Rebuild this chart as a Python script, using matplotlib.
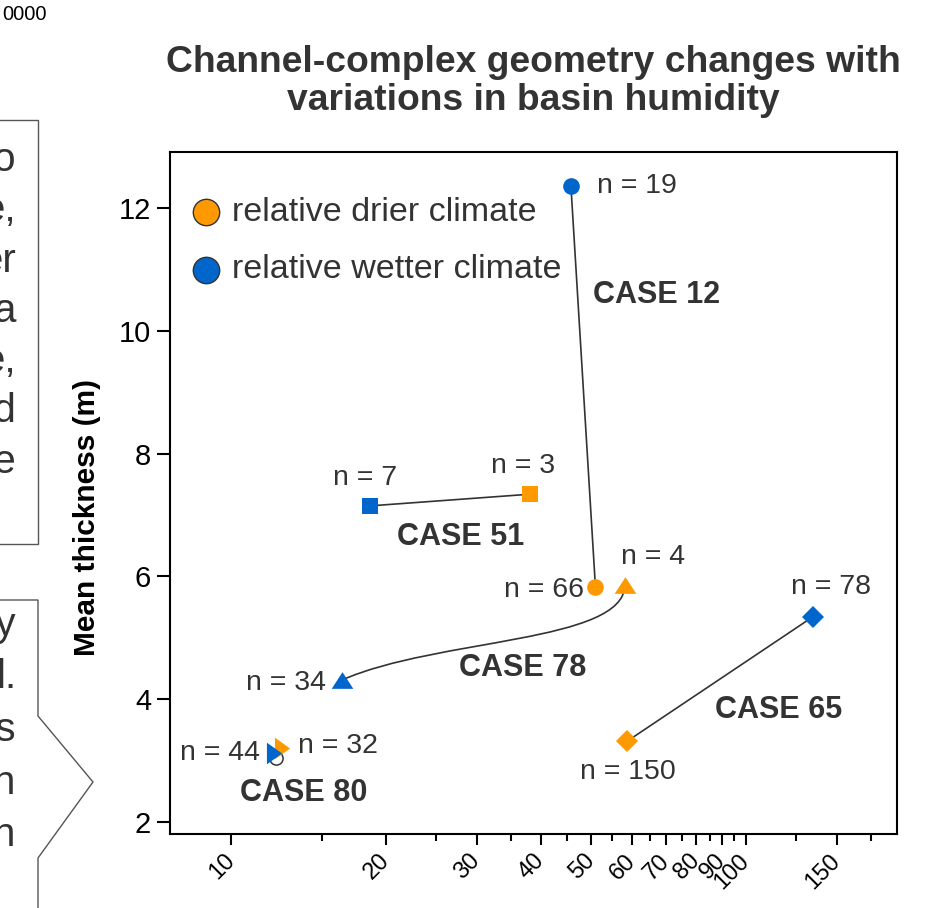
import matplotlib
matplotlib.use("Agg")
import matplotlib.pyplot as plt
from matplotlib.path import Path
from matplotlib.patches import PathPatch, Polygon
from matplotlib.ticker import FixedLocator, NullFormatter
import numpy as np

# ---------------- data ----------------
cases = ["CASE 12", "CASE 51", "CASE 78", "CASE 65", "CASE 80"]
dry_x = [51.0, 38.0, 58.2, 58.7, 12.56]
dry_y = [5.82, 7.34, 5.86, 3.31, 3.20]
wet_x = [45.7, 18.6, 16.4, 135.1, 12.1]
wet_y = [12.36, 7.15, 4.31, 5.345, 3.12]
dry_n = ["n = 66", "n = 3", "n = 4", "n = 150", "n = 32"]
wet_n = ["n = 19", "n = 7", "n = 34", "n = 78", "n = 44"]
open_x = [12.2]
open_y = [3.04]

xmajor = [10, 20, 30, 40, 50, 60, 70, 80, 90, 100, 150]
xminor = [15, 25, 35, 45, 55, 65, 75, 85, 95, 125, 175]
yticks = [2, 4, 6, 8, 10, 12]

ORANGE = "#FF9900"
BLUE = "#0066CC"
DARK = "#333333"

plt.rcParams['font.family'] = ['Liberation Sans', 'DejaVu Sans']

W, H = 929, 908
fig = plt.figure(figsize=(W / 100, H / 100), dpi=100)
ax = fig.add_axes([170 / W, 1 - 834 / H, 727.5 / W, 682 / H])
ax.set_xscale('log')
ax.set_xlim(7.6, 197)
ax.set_ylim(1.8, 12.92)

# markers per case
dry_m = ['o', 's', 'tri', 'D', 'rtri']
tri_up = [(-1, -0.77), (1, -0.77), (0, 0.77)]
tri_right = [(-0.7, -1), (-0.7, 1), (0.7, 0)]


def mk(m):
    if m == 'tri':
        return tri_up, 15.6
    if m == 'rtri':
        return tri_right, 15.6
    if m == 'D':
        return 'D', 11
    if m == 's':
        return 's', 12
    return 'o', 12


# connecting lines (straight) for cases 12, 51, 65
for i in [0, 1, 3]:
    ax.plot([dry_x[i], wet_x[i]], [dry_y[i], wet_y[i]], color=DARK, lw=1.2, zorder=2)

# curved connector for case 78 (bezier in display space)
i = 2
p0 = ax.transData.transform((dry_x[i], dry_y[i]))
p3 = ax.transData.transform((wet_x[i], wet_y[i]))
p1 = p0 + np.array([-1, -58])
p2 = p3 + np.array([95, 42])
pts = ax.transData.inverted().transform(np.array([p0, p1, p2, p3]))
path = Path(pts, [Path.MOVETO, Path.CURVE4, Path.CURVE4, Path.CURVE4])
ax.add_patch(PathPatch(path, facecolor='none', edgecolor=DARK, lw=1.2, zorder=2))

# open circle for case 80
ax.plot(open_x, open_y, 'o', ms=9.5, mfc='white', mec=DARK, mew=1.1, zorder=3)

for i in range(len(cases)):
    m, s = mk(dry_m[i])
    ax.plot([dry_x[i]], [dry_y[i]], marker=m, ms=s, color=ORANGE, mew=0, ls='none', zorder=4)
for i in range(len(cases)):
    m, s = mk(dry_m[i])
    ax.plot([wet_x[i]], [wet_y[i]], marker=m, ms=s, color=BLUE, mew=0, ls='none', zorder=5)

# n labels (offsets in pixels)
lab_kw = dict(textcoords='offset pixels', fontsize=20.5, color=DARK)
dry_off = [((-11, -3), 'right', 'center'), ((-7, 28), 'center', 'center'),
           ((-4, 28), 'left', 'center'), ((1, -31), 'center', 'center'),
           ((16, 2), 'left', 'center')]
wet_off = [((26, 0), 'left', 'center'), ((-5, 28), 'center', 'center'),
           ((-16, -3), 'right', 'center'), ((18, 30), 'center', 'center'),
           ((-14, 0), 'right', 'center')]
for i in range(len(cases)):
    (o, ha, va) = dry_off[i]
    ax.annotate(dry_n[i], (dry_x[i], dry_y[i]), xytext=o, ha=ha, va=va, **lab_kw)
    (o, ha, va) = wet_off[i]
    ax.annotate(wet_n[i], (wet_x[i], wet_y[i]), xytext=o, ha=ha, va=va, **lab_kw)

# case labels (axes fraction positions)
case_pos = [(0.669, 0.791), (0.399, 0.436), (0.485, 0.243), (0.837, 0.182), (0.184, 0.060)]
for c, (px, py) in zip(cases, case_pos):
    ax.text(px, py, c, transform=ax.transAxes, ha='center', va='center',
            fontsize=22, fontweight='bold', color=DARK)

# legend (manual)
leg = [("relative drier climate", ORANGE, 0.912), ("relative wetter climate", BLUE, 0.827)]
for txt, col, yy in leg:
    ax.plot([0.0495], [yy], 'o', ms=19, mfc=col, mec=DARK, mew=1.0,
            transform=ax.transAxes, clip_on=False, zorder=6)
    ax.text(0.0852, yy, txt, transform=ax.transAxes, ha='left', va='center',
            fontsize=24.5, color=DARK)

# axes styling
for sp in ax.spines.values():
    sp.set_linewidth(1.5)
    sp.set_color('black')
ax.xaxis.set_major_locator(FixedLocator(xmajor))
ax.xaxis.set_minor_locator(FixedLocator(xminor))
ax.xaxis.set_minor_formatter(NullFormatter())
ax.set_xticklabels([str(v) for v in xmajor])
ax.set_yticks(yticks)
ax.set_yticklabels([str(v) for v in yticks])
ax.tick_params(axis='y', which='major', length=9.5, width=1.5, labelsize=21, pad=4, direction='out')
ax.tick_params(axis='x', which='major', length=8, width=1.5, labelsize=17, pad=9, direction='out')
ax.tick_params(axis='x', which='minor', length=5, width=1.5, direction='out')
for lbl in ax.get_xticklabels():
    lbl.set_rotation(45)
    lbl.set_ha('right')
    lbl.set_va('center')
    lbl.set_rotation_mode('anchor')

# title and y label
ax.set_title("Channel-complex geometry changes with\nvariations in basin humidity",
             fontsize=26.8, fontweight='bold', color=DARK, linespacing=1.14, pad=30)
fig.text(87 / W, 1 - 517 / H, "Mean thickness (m)", rotation=90, ha='center', va='center',
         fontsize=21.5, fontweight='bold', color='black')

# fragments of the neighbouring panel (cut at left edge)
fig.text(47 / W, 1 - 14 / H, "0000", ha='right', va='center', fontsize=14.5, color='black')
frag1 = ["to", "e,", "er", "a", "e,", "nd", "re"]
frag2 = ["ry", "l.", "rs", "in", "in"]
disp = lambda x, y: (x, H - y)
fig.patches.append(Polygon([disp(-5, 120), disp(38, 120), disp(38, 544), disp(-5, 544)],
                           closed=True, fill=False, edgecolor='#555555', lw=1.0,
                           transform=None, figure=fig))
fig.patches.append(Polygon([disp(-5, 600), disp(38, 600), disp(38, 716), disp(93, 782),
                            disp(38, 858), disp(38, 915), disp(-5, 915)],
                           closed=True, fill=False, edgecolor='#555555', lw=1.0,
                           transform=None, figure=fig))
for k, t in enumerate(frag1):
    fig.text(16 / W, 1 - (160 + 50.3 * k) / H, t, ha='right', va='center',
             fontsize=29, color=DARK)
for k, t in enumerate(frag2):
    fig.text(16 / W, 1 - (625 + 52.5 * k) / H, t, ha='right', va='center',
             fontsize=29, color=DARK)

fig.savefig("out.png", dpi=100)
